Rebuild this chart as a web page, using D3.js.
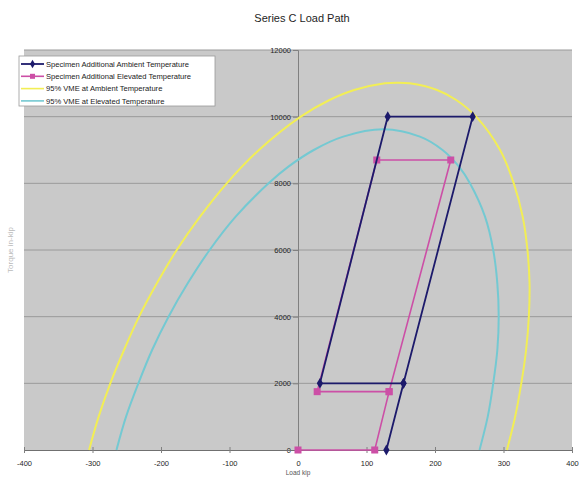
<!DOCTYPE html>
<html>
<head>
<meta charset="utf-8">
<script src="https://cdn.jsdelivr.net/npm/d3@7"></script>
<style>
  html, body { margin: 0; padding: 0; background: #ffffff; }
  svg { display: block; font-family: "Liberation Sans", Arial, sans-serif; }
</style>
</head>
<body>
<svg id="chart" width="587" height="477"></svg>
<script>
// Load path of the two specimens (load kip, torque)
const ambientLoad   = [129, 154, 32, 131, 255, 154];
const ambientTorque = [0, 2000, 2000, 10000, 10000, 2000];

const elevatedLoad   = [0, 112, 133, 223, 115, 28, 133];
const elevatedTorque = [0, 0, 1750, 8700, 8700, 1750, 1750];

// 95% von Mises envelopes
const vmeAmbientLoad   = [-305, -291, -274, -254, -232, -206, -177, -143, -104, -57, 4, 46, 82, 127, 145, 163, 203, 231, 260, 295, 315, 328, 335, 338, 337, 333, 326, 317, 305];
const vmeAmbientTorque = [0, 1000, 2000, 3000, 4000, 5000, 6000, 7000, 8000, 9000, 10000, 10500, 10800, 11000, 11020, 11000, 10800, 10500, 10000, 9000, 8000, 7000, 6000, 5000, 4000, 3000, 2000, 1000, 0];

const vmeElevatedLoad   = [-265, -251, -233, -213, -189, -161, -129, -91, -43, -14, 23, 66, 125, 178, 211, 235, 251, 273, 285, 291, 293, 291, 285, 277, 265];
const vmeElevatedTorque = [0, 1000, 2000, 3000, 4000, 5000, 6000, 7000, 8000, 8500, 9000, 9400, 9620, 9400, 9000, 8500, 8000, 7000, 6000, 5000, 4000, 3000, 2000, 1000, 0];

const xTicks = [-400, -300, -200, -100, 0, 100, 200, 300, 400];
const yTicks = [0, 2000, 4000, 6000, 8000, 10000, 12000];

const seriesNames = [
  "Specimen Additional Ambient Temperature",
  "Specimen Additional Elevated Temperature",
  "95% VME at Ambient Temperature",
  "95% VME at Elevated Temperature"
];
const chartTitle = "Series C Load Path";
const xTitle = "Load kip";
const yTitle = "Torque in-kip";

const zip = (xs, ys) => xs.map((v, i) => [v, ys[i]]);
const plain = d => String(d);  // hyphen minus, no grouping

const svg = d3.select("#chart");
const plotLeft = 24, plotRight = 572, plotTop = 50, plotBottom = 450;

const x = d3.scaleLinear().domain([-400, 400]).range([plotLeft, plotRight]);
const y = d3.scaleLinear().domain([0, 12000]).range([plotBottom, plotTop]);

// Title
svg.append("text")
  .attr("x", 302).attr("y", 22)
  .attr("text-anchor", "middle")
  .attr("font-size", 11)
  .attr("fill", "#1e1e1e")
  .text(chartTitle);

// Plot area
svg.append("rect")
  .attr("x", plotLeft).attr("y", plotTop)
  .attr("width", plotRight - plotLeft).attr("height", plotBottom - plotTop)
  .attr("fill", "#c9c9c9");

// Horizontal gridlines
svg.append("g")
  .selectAll("line")
  .data(yTicks.filter(d => d > 0))
  .join("line")
  .attr("x1", plotLeft).attr("x2", plotRight)
  .attr("y1", d => y(d)).attr("y2", d => y(d))
  .attr("stroke", "#9a9a9a").attr("stroke-width", 1);

// Y axis along load = 0
const yAxis = d3.axisLeft(y).tickValues(yTicks).tickSize(5).tickPadding(2).tickFormat(plain);
const gy = svg.append("g").attr("transform", `translate(${x(0)},0)`).call(yAxis);
gy.select(".domain").attr("stroke", "#808080");
gy.selectAll(".tick line").attr("stroke", "#808080");
gy.selectAll(".tick text").attr("font-size", 7.5).attr("fill", "#1e1e1e").attr("font-family", "Liberation Sans, Arial, sans-serif");

// X axis at the bottom
const xAxis = d3.axisBottom(x).tickValues(xTicks).tickSize(3).tickPadding(8).tickFormat(plain);
const gx = svg.append("g").attr("transform", `translate(0,${plotBottom})`).call(xAxis);
gx.select(".domain").attr("stroke", "#707070");
gx.selectAll(".tick line").attr("stroke", "#808080").attr("y1", -3);
gx.selectAll(".tick text").attr("font-size", 7.5).attr("fill", "#1e1e1e").attr("font-family", "Liberation Sans, Arial, sans-serif");

// Axis titles
svg.append("text")
  .attr("x", x(0)).attr("y", 475)
  .attr("text-anchor", "middle")
  .attr("font-size", 6.5).attr("fill", "#555")
  .text(xTitle);
svg.append("text")
  .attr("transform", `translate(13,${(plotTop + plotBottom) / 2}) rotate(-90)`)
  .attr("text-anchor", "middle")
  .attr("font-size", 8).attr("fill", "#bbb")
  .text(yTitle);

const smooth = d3.line().x(d => x(d[0])).y(d => y(d[1])).curve(d3.curveCatmullRom.alpha(0.5));
const straight = d3.line().x(d => x(d[0])).y(d => y(d[1]));

// Envelopes
svg.append("path").datum(zip(vmeAmbientLoad, vmeAmbientTorque))
  .attr("d", smooth).attr("fill", "none")
  .attr("stroke", "#f2ee55").attr("stroke-width", 2);
svg.append("path").datum(zip(vmeElevatedLoad, vmeElevatedTorque))
  .attr("d", smooth).attr("fill", "none")
  .attr("stroke", "#74c9d2").attr("stroke-width", 2);

// Specimen paths
const navy = "#1c1a6b", magenta = "#cc4fa6";
svg.append("path").datum(zip(elevatedLoad, elevatedTorque))
  .attr("d", straight).attr("fill", "none")
  .attr("stroke", magenta).attr("stroke-width", 1.6);
svg.append("g").selectAll("rect")
  .data(zip(elevatedLoad, elevatedTorque))
  .join("rect")
  .attr("x", d => x(d[0]) - 3.5).attr("y", d => y(d[1]) - 3.5)
  .attr("width", 7).attr("height", 7)
  .attr("fill", magenta);

svg.append("path").datum(zip(ambientLoad, ambientTorque))
  .attr("d", straight).attr("fill", "none")
  .attr("stroke", navy).attr("stroke-width", 1.8);
const diamond = d3.symbol().type(d3.symbolDiamond).size(34);
svg.append("g").selectAll("path")
  .data(zip(ambientLoad, ambientTorque))
  .join("path")
  .attr("transform", d => `translate(${x(d[0])},${y(d[1])})`)
  .attr("d", diamond)
  .attr("fill", navy);

// Legend
const lg = svg.append("g").attr("transform", "translate(19,56)");
lg.append("rect").attr("width", 196).attr("height", 50)
  .attr("fill", "#ffffff").attr("stroke", "#9a9a9a").attr("stroke-width", 0.8);
const legendStyles = [
  { color: navy, marker: "diamond", w: 1.8 },
  { color: magenta, marker: "square", w: 1.6 },
  { color: "#f2ee55", marker: null, w: 1.6 },
  { color: "#74c9d2", marker: null, w: 1.6 }
];
seriesNames.forEach((name, i) => {
  const cy = 8 + i * 12.3;
  const s = legendStyles[i];
  lg.append("line").attr("x1", 2).attr("x2", 25).attr("y1", cy).attr("y2", cy)
    .attr("stroke", s.color).attr("stroke-width", s.w);
  if (s.marker === "diamond") {
    lg.append("path").attr("transform", `translate(13.5,${cy})`)
      .attr("d", d3.symbol().type(d3.symbolDiamond).size(22)).attr("fill", s.color);
  } else if (s.marker === "square") {
    lg.append("rect").attr("x", 11).attr("y", cy - 2.5).attr("width", 5).attr("height", 5)
      .attr("fill", s.color);
  }
  lg.append("text").attr("x", 27).attr("y", cy + 2.6)
    .attr("font-size", 7.6).attr("fill", "#1a1a1a")
    .text(name);
});
</script>
</body>
</html>
